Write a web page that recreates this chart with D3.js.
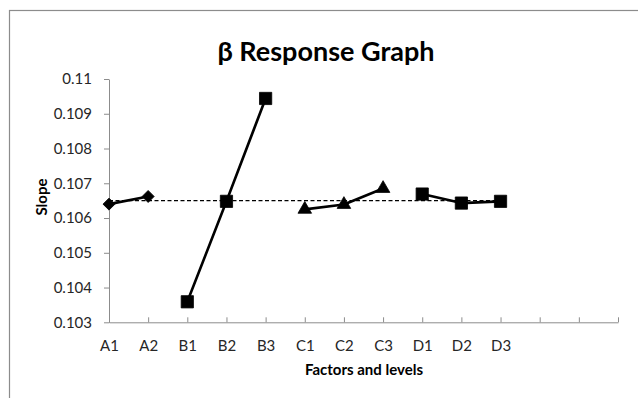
<!DOCTYPE html>
<html>
<head>
<meta charset="utf-8">
<script src="https://cdn.jsdelivr.net/npm/d3@7"></script>
<style>
  html, body { margin: 0; padding: 0; background: #fff; }
  svg { display: block; }
  text { font-family: Lato, "Open Sans", sans-serif; }
</style>
</head>
<body>
<svg id="chart" width="638" height="398"></svg>
<script>
// ---- data ----
const categories = ["A1", "A2", "B1", "B2", "B3", "C1", "C2", "C3", "D1", "D2", "D3"];
const emptySlots = ["_e1", "_e2", "_e3"];
const seriesA = [0.10640, 0.10662];               // A1, A2 (diamond)
const seriesB = [0.10359, 0.10648, 0.10944];      // B1..B3 (square)
const seriesC = [0.10625, 0.10639, 0.10685];      // C1..C3 (triangle)
const seriesD = [0.10669, 0.10643, 0.10648];      // D1..D3 (square)
const meanValue = 0.10650;                         // dashed reference line
const yTicks = [0.103, 0.104, 0.105, 0.106, 0.107, 0.108, 0.109, 0.110];
const yTickLabels = ["0.103", "0.104", "0.105", "0.106", "0.107", "0.108", "0.109", "0.11"];
const titleText = "β Response Graph";
const xTitle = "Factors and levels";
const yTitle = "Slope";

// ---- layout ----
const svg = d3.select("#chart");
const plot = { left: 109, right: 618, top: 79, bottom: 322.3 };

const x = d3.scalePoint()
  .domain(categories.concat(emptySlots))
  .range([plot.left, plot.right]);
const y = d3.scaleLinear()
  .domain([0.103, 0.110])
  .range([plot.bottom, plot.top]);

// outer chart border
svg.append("rect")
  .attr("x", 9.5).attr("y", 10.5)
  .attr("width", 700).attr("height", 500)
  .attr("fill", "none").attr("stroke", "#8c8c8c").attr("stroke-width", 1.2);

// title
svg.append("text")
  .attr("x", 326).attr("y", 61)
  .attr("text-anchor", "middle")
  .attr("font-size", 27).attr("font-weight", "bold")
  .attr("fill", "#000")
  .text(titleText);

// y axis
const yAxis = d3.axisLeft(y)
  .tickValues(yTicks)
  .tickFormat((d, i) => yTickLabels[i])
  .tickSizeInner(5).tickSizeOuter(0).tickPadding(12);
const gy = svg.append("g")
  .attr("transform", `translate(${plot.left},0)`)
  .call(yAxis);
gy.selectAll("path, line").attr("stroke", "#8c8c8c").attr("stroke-width", 1);
gy.selectAll("text").attr("font-size", 15).attr("fill", "#262626")
  .attr("font-family", "Lato, 'Open Sans', sans-serif");

// x axis (ticks pointing up into plot)
const xAxis = d3.axisBottom(x)
  .tickFormat(d => d.startsWith("_") ? "" : d)
  .tickSizeInner(-5).tickSizeOuter(0).tickPadding(18);
const gx = svg.append("g")
  .attr("transform", `translate(0,${plot.bottom})`)
  .call(xAxis);
gx.selectAll("path, line").attr("stroke", "#8c8c8c").attr("stroke-width", 1);
gx.selectAll("text").attr("font-size", 15).attr("fill", "#262626")
  .attr("font-family", "Lato, 'Open Sans', sans-serif");

// axis titles
svg.append("text")
  .attr("x", 364).attr("y", 375)
  .attr("text-anchor", "middle")
  .attr("font-size", 15).attr("font-weight", "bold").attr("fill", "#000")
  .text(xTitle);
svg.append("text")
  .attr("transform", "translate(47,197) rotate(-90)")
  .attr("text-anchor", "middle")
  .attr("font-size", 15).attr("font-weight", "bold").attr("fill", "#000")
  .text(yTitle);

// dashed mean line from A1 to D3
svg.append("line")
  .attr("x1", x(categories[0])).attr("x2", x(categories[categories.length - 1]))
  .attr("y1", y(meanValue)).attr("y2", y(meanValue))
  .attr("stroke", "#000").attr("stroke-width", 1.3)
  .attr("stroke-dasharray", "4,2.5");

// series
const groups = [
  { cats: categories.slice(0, 2), vals: seriesA, marker: "diamond" },
  { cats: categories.slice(2, 5), vals: seriesB, marker: "square" },
  { cats: categories.slice(5, 8), vals: seriesC, marker: "triangle" },
  { cats: categories.slice(8, 11), vals: seriesD, marker: "square" }
];

const line = d3.line().x(d => x(d.c)).y(d => y(d.v));

groups.forEach(g => {
  const pts = g.cats.map((c, i) => ({ c, v: g.vals[i] }));
  svg.append("path")
    .datum(pts)
    .attr("d", line)
    .attr("fill", "none")
    .attr("stroke", "#000")
    .attr("stroke-width", 2.6)
    .attr("stroke-linejoin", "round");

  let sym, rot = 0;
  if (g.marker === "square") sym = d3.symbol().type(d3.symbolSquare).size(150);
  else if (g.marker === "diamond") { sym = d3.symbol().type(d3.symbolSquare).size(72); rot = 45; }
  else sym = d3.symbol().type(d3.symbolTriangle).size(80);

  svg.selectAll(null)
    .data(pts)
    .enter()
    .append("path")
    .attr("d", sym)
    .attr("transform", d => `translate(${x(d.c)},${y(d.v)}) rotate(${rot})`)
    .attr("fill", "#000")
    .attr("stroke", "#000")
    .attr("stroke-width", 0.8);
});
</script>
</body>
</html>
